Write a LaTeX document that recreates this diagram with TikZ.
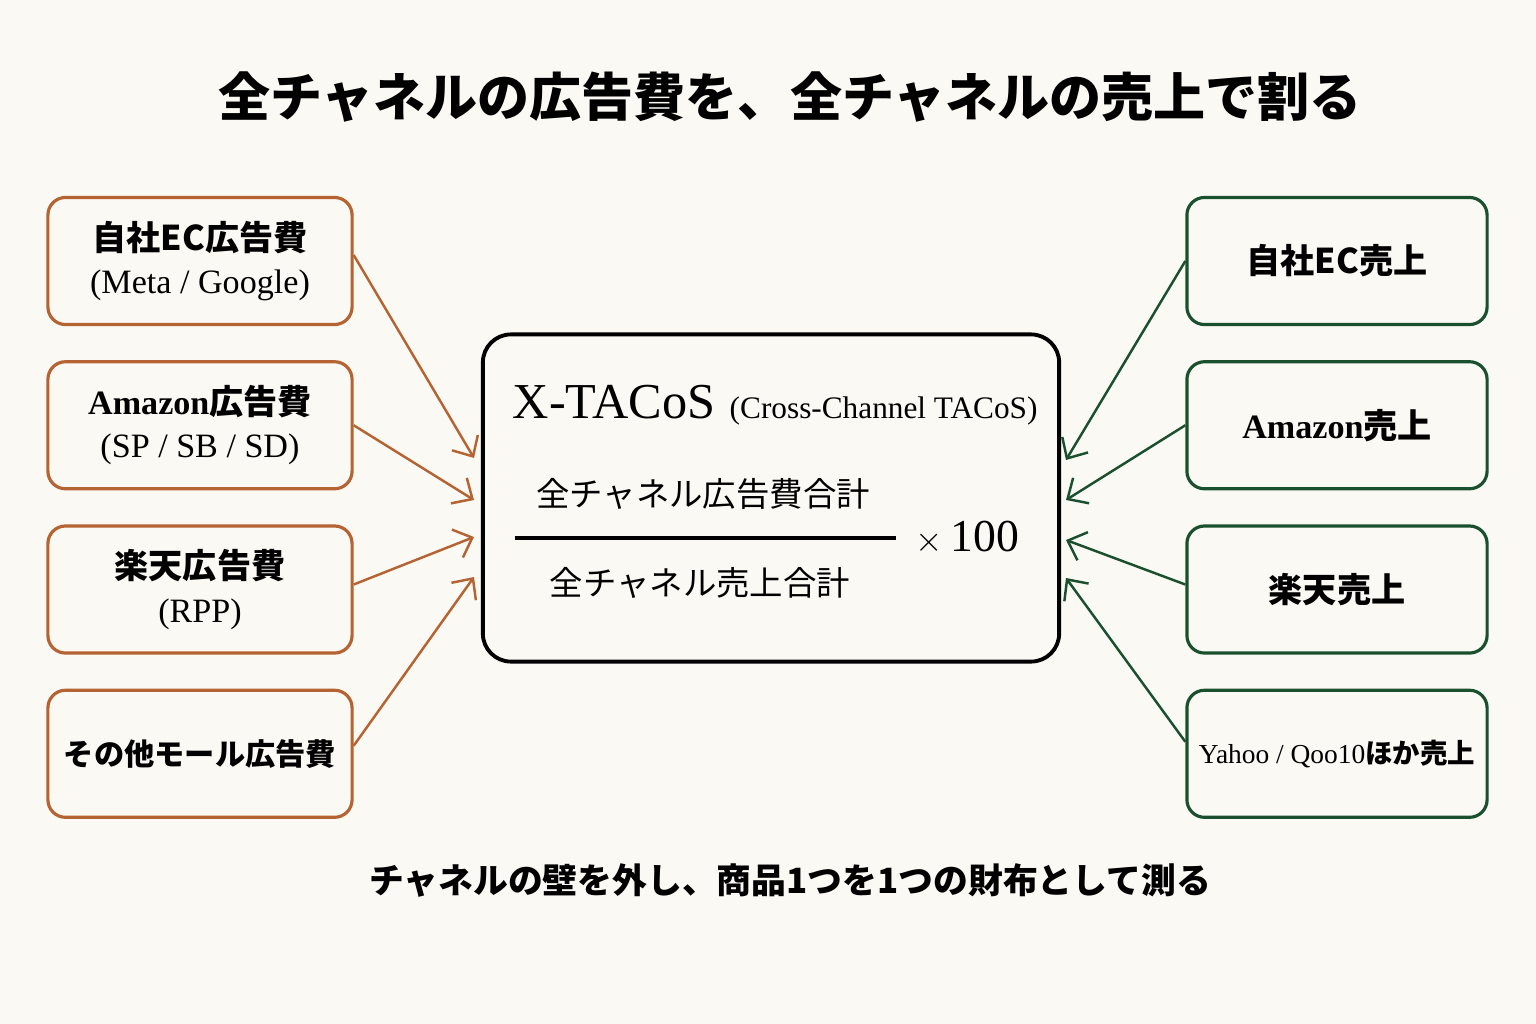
\documentclass[tikz,border=0pt]{standalone}
\usepackage{fontspec}
\setmainfont{Liberation Serif}
\newfontfamily\jpfont{Noto Sans CJK JP}
\newcommand{\jp}[1]{{\jpfont #1}}
\definecolor{adOrange}{RGB}{181, 99, 50}
\definecolor{salesGreen}{RGB}{26, 80, 46}
\definecolor{paperCream}{RGB}{251, 249, 244}
\usetikzlibrary{arrows.meta, positioning}

\begin{document}
\begin{tikzpicture}[x=0.01cm, y=-0.01cm,
  adbox/.style={rectangle, rounded corners=5pt, draw=adOrange, line width=0.9pt,
                minimum width=3.04cm, minimum height=1.27cm, align=center,
                font=\fontsize{9.7}{12.3}\selectfont},
  salesbox/.style={rectangle, rounded corners=5pt, draw=salesGreen, line width=0.9pt,
                   minimum width=3.0cm, minimum height=1.27cm, align=center,
                   font=\fontsize{9.7}{12.3}\selectfont},
  mainbox/.style={rectangle, rounded corners=8pt, draw=black, line width=1.1pt,
                  minimum width=5.76cm, minimum height=3.27cm},
  adarrow/.style={-{Straight Barb[length=1.6mm, width=3mm]}, draw=adOrange, line width=0.7pt},
  salesarrow/.style={-{Straight Barb[length=1.6mm, width=3mm]}, draw=salesGreen, line width=0.7pt},
]
  \fill[paperCream] (0,0) rectangle (1536,1024);
  \useasboundingbox (0,0) rectangle (1536,1024);

  \node[font=\fontsize{14.8}{17}\selectfont\bfseries] (title) at (790,97)
    {\jp{全チャネルの広告費を、全チャネルの売上で割る}};

  \node[adbox] (l1) at (200,261) {\jp{\bfseries 自社EC広告費}\\(Meta / Google)};
  \node[adbox, below=0.34cm of l1] (l2) {\textbf{Amazon}\jp{\bfseries 広告費}\\(SP / SB / SD)};
  \node[adbox, below=0.34cm of l2] (l3) {\jp{\bfseries 楽天広告費}\\(RPP)};
  \node[adbox, below=0.34cm of l3, font=\fontsize{8.6}{11}\selectfont] (l4)
    {\jp{\bfseries その他モール広告費}};

  \node[salesbox] (r1) at (1337,261) {\jp{\bfseries 自社EC売上}};
  \node[salesbox, below=0.34cm of r1] (r2) {\textbf{Amazon}\jp{\bfseries 売上}};
  \node[salesbox, below=0.34cm of r2] (r3) {\jp{\bfseries 楽天売上}};
  \node[salesbox, below=0.34cm of r3, font=\fontsize{7.8}{10}\selectfont] (r4)
    {Yahoo / Qoo10\jp{\bfseries ほか売上}};

  \node[mainbox] (xt) at (771,498) {};
  \node[anchor=base west, inner sep=0pt, font=\fontsize{14.3}{17}\selectfont] (xname) at (512,418) {X-TACoS};
  \node[anchor=base west, inner sep=0pt, font=\fontsize{8.9}{11}\selectfont] (xlong) at (729,418)
    {(Cross-Channel TACoS)};
  \node[font=\fontsize{9.5}{12}\selectfont] (num) at (703,494) {\jp{全チャネル広告費合計}};
  \node[font=\fontsize{9.5}{12}\selectfont] (den) at (700,583) {\jp{全チャネル売上合計}};
  \coordinate (barL) at (515,538);
  \coordinate (barR) at (896,538);
  \draw[line width=1pt] (barL) -- (barR);
  \node[anchor=west, font=\fontsize{13}{16}\selectfont] (times) at (903,538)
    {{\fontsize{10}{12}\selectfont$\times$}\,100};

  \coordinate (inL1) at (474,458);
  \coordinate (inL2) at (474,500);
  \coordinate (inL3) at (474,537);
  \coordinate (inL4) at (474,577);
  \coordinate (inR1) at (1066,460);
  \coordinate (inR2) at (1066,500);
  \coordinate (inR3) at (1066,540);
  \coordinate (inR4) at (1066,578);

  \draw[adarrow] ([yshift=0.06cm]l1.east) -- (inL1);
  \draw[adarrow] (l2.east) -- (inL2);
  \draw[adarrow] ([yshift=0.05cm]l3.east) -- (inL3);
  \draw[adarrow] ([yshift=0.08cm]l4.east) -- (inL4);
  \draw[salesarrow] (r1.west) -- (inR1);
  \draw[salesarrow] (r2.west) -- (inR2);
  \draw[salesarrow] ([yshift=0.05cm]r3.west) -- (inR3);
  \draw[salesarrow] ([yshift=0.12cm]r4.west) -- (inR4);

  \node[font=\fontsize{9.9}{12}\selectfont\bfseries] (footer) at (790,880)
    {\jp{チャネルの壁を外し、商品1つを1つの財布として測る}};
\end{tikzpicture}
\end{document}
